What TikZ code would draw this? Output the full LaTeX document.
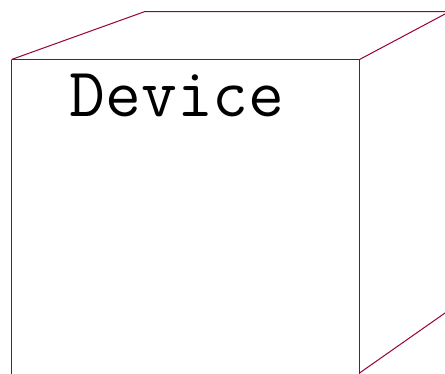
\documentclass[tikz,border=0pt]{standalone}
\usepackage{tikz}
\usetikzlibrary{positioning}
\definecolor{boxedge}{RGB}{150,0,60}

\begin{document}
\begin{tikzpicture}[x=1bp, y=-1bp]
\tikzset{
    every node/.style={align=center},
    edge/.style={draw=boxedge, line width=1bp},
    label/.style={font=\ttfamily\fontsize{69.8}{70}\selectfont, inner sep=0pt, anchor=base west}
}
\useasboundingbox (0,0) rectangle (445,373);
\clip (0,0) rectangle (445,373);

\coordinate (fl) at (11.5,59.5);
\coordinate (fr) at (359.5,59.5);
\coordinate (bl) at (145,11.5);
\coordinate (br) at (445,14);
\coordinate (dl) at (11.5,400);
\coordinate (dr) at (359.5,373);
\coordinate (er) at (445,313);

\draw[edge] (fl) -- (fr) -- (dr) -- (359.5,400);
\draw[edge] (fl) -- (dl);
\draw[edge] (fl) -- (bl) -- (460,11.5);
\draw[edge] (fr) -- (br);
\draw[edge] (dr) -- (er);

\node[label] (device) at (69.5,116.7) {Device};
\end{tikzpicture}
\end{document}
